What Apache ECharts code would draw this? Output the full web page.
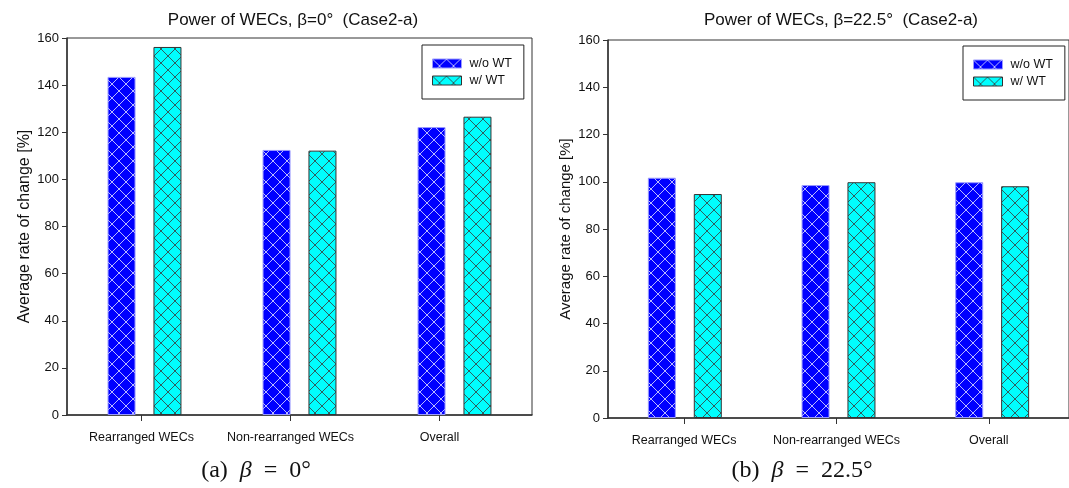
<!DOCTYPE html>
<html>
<head>
<meta charset="utf-8">
<script src="https://cdn.jsdelivr.net/npm/echarts@6/dist/echarts.min.js"></script>
<style>
  html, body { margin: 0; padding: 0; background: #fff; }
  #chart { width: 1069px; height: 488px; }
</style>
</head>
<body>
<div id="chart"></div>
<script>
// categories and values
const categories = ['Rearranged WECs', 'Non-rearranged WECs', 'Overall']
const seriesNames = ['w/o WT', 'w/ WT']
// (a) beta = 0
const woWT_a = [143.5, 112.5, 122.2]
const wWT_a = [156.2, 112.2, 126.6]
// (b) beta = 22.5
const woWT_b = [101.7, 98.6, 99.8]
const wWT_b = [94.8, 99.8, 98.1]
const yTicks = { min: 0, max: 160, interval: 20 }

const FONT = "'Liberation Sans', Arial, sans-serif"
const SERIF = "'Liberation Serif', 'DejaVu Serif', serif"

// crosshatch fill like the SigmaPlot bars
function hatch(bg, line) {
    let c = document.createElement('canvas')
    c.width = 14
    c.height = 14
    let ctx = c.getContext('2d')
    ctx.fillStyle = bg
    ctx.fillRect(0, 0, 14, 14)
    ctx.strokeStyle = line
    ctx.lineWidth = 1
    ctx.beginPath()
    ctx.moveTo(0, 0); ctx.lineTo(14, 14)
    ctx.moveTo(14, 0); ctx.lineTo(0, 14)
    ctx.stroke()
    return { image: c, repeat: 'repeat' }
}

const blueStyle = { color: hatch('#0000ff', '#b8b8ff'), borderColor: '#9a9aff', borderWidth: 1 }
const cyanStyle = { color: hatch('#00ffff', '#2f6060'), borderColor: '#333', borderWidth: 1 }

function yAxis(gridIndex, name, nameSize, gap) {
    return {
        type: 'value', gridIndex: gridIndex, min: yTicks.min, max: yTicks.max, interval: yTicks.interval,
        name: name, nameLocation: 'middle', nameGap: gap,
        nameTextStyle: { fontFamily: FONT, fontSize: nameSize, color: '#111' },
        axisLine: { show: true, lineStyle: { color: '#333', width: 1.5 } },
        axisTick: { show: true, length: 5, lineStyle: { color: '#333' } },
        axisLabel: { fontFamily: FONT, fontSize: 13, color: '#111', margin: 8 },
        splitLine: { show: false }
    }
}
function hiddenY(gridIndex) {
    return { type: 'value', gridIndex: gridIndex, min: yTicks.min, max: yTicks.max, show: false }
}
function barX(gridIndex) {
    return {
        type: 'category', gridIndex: gridIndex, data: categories,
        axisLine: { show: true, lineStyle: { color: '#333', width: 1.5 } },
        axisTick: { show: false }, axisLabel: { show: false }
    }
}
function labelX(gridIndex) {
    return {
        type: 'category', gridIndex: gridIndex, data: categories,
        axisLine: { show: false },
        axisTick: { show: true, alignWithLabel: true, length: 6, lineStyle: { color: '#333' } },
        axisLabel: { interval: 0, fontFamily: FONT, fontSize: 12.5, color: '#111', margin: 16 }
    }
}
function bar(name, data, axis, style) {
    return {
        name: name, type: 'bar', data: data, xAxisIndex: axis, yAxisIndex: axis,
        barWidth: 28, barGap: '64%', itemStyle: style, emphasis: { disabled: true }
    }
}
function legend(left, top) {
    return {
        data: seriesNames, orient: 'vertical', left: left, top: top,
        icon: 'rect', itemWidth: 29, itemHeight: 9, itemGap: 4,
        padding: [12, 12, 12, 10],
        borderColor: '#222', borderWidth: 1,
        itemStyle: { borderWidth: 1 },
        textStyle: { fontFamily: FONT, fontSize: 12.5, color: '#111', padding: [0, 0, 0, 3] },
        selectedMode: false
    }
}
function caption(x, label, value) {
    return {
        type: 'text', x: x, y: 471,
        style: {
            text: '{a|' + label + '  }{b|β}{a|  =  ' + value + '°}',
            align: 'center', verticalAlign: 'middle',
            rich: {
                a: { fontFamily: SERIF, fontSize: 24, fill: '#111' },
                b: { fontFamily: SERIF, fontSize: 24, fontStyle: 'italic', fill: '#111' }
            }
        }
    }
}
function title(x, text) {
    return {
        type: 'text', x: x, y: 20,
        style: { text: text, align: 'center', verticalAlign: 'middle', font: '17px ' + FONT, fill: '#111' }
    }
}

let myChart = echarts.init(document.getElementById('chart'))
let option = {
    animation: false,
    grid: [
        { left: 67, top: 38, width: 465, height: 377, show: true, borderColor: '#333', borderWidth: 1 },
        { left: 67, top: 38, width: 447, height: 377 },
        { left: 608, top: 40, width: 462, height: 378, show: true, borderColor: '#333', borderWidth: 1 },
        { left: 608, top: 40, width: 457, height: 378 }
    ],
    xAxis: [barX(0), labelX(1), barX(2), labelX(3)],
    yAxis: [yAxis(0, 'Average rate of change [%]', 16, 34), hiddenY(1), yAxis(2, 'Average rate of change [%]', 15, 35), hiddenY(3)],
    legend: [legend(422, 45), legend(963, 46)],
    series: [
        bar(seriesNames[0], woWT_a, 0, blueStyle),
        bar(seriesNames[1], wWT_a, 0, cyanStyle),
        bar(seriesNames[0], woWT_b, 2, blueStyle),
        bar(seriesNames[1], wWT_b, 2, cyanStyle)
    ],
    graphic: [
        title(293, 'Power of WECs, β=0°  (Case2-a)'),
        title(841, 'Power of WECs, β=22.5°  (Case2-a)'),
        caption(256, '(a)', '0'),
        caption(802, '(b)', '22.5')
    ]
}
myChart.setOption(option)
</script>
</body>
</html>
